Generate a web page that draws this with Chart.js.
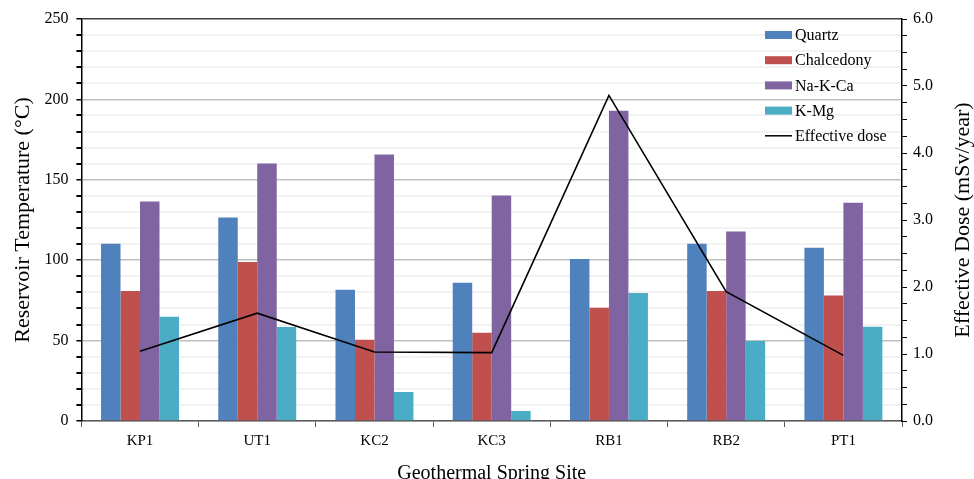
<!DOCTYPE html>
<html>
<head>
<meta charset="utf-8">
<script src="https://cdn.jsdelivr.net/npm/chart.js@4/dist/chart.umd.min.js"></script>
<style>
  html, body { margin: 0; padding: 0; background: #fff; overflow: hidden; }
</style>
</head>
<body>
<canvas id="myChart" width="974" height="488"></canvas>
<script>
const sites = ['KP1', 'UT1', 'KC2', 'KC3', 'RB1', 'RB2', 'PT1']
const quartz = [110.2, 126.6, 81.7, 86, 100.8, 110.2, 107.7]
const chalcedony = [80.8, 98.9, 50.5, 54.9, 70.4, 80.8, 78.1]
const naKCa = [136.5, 160.2, 165.8, 140.3, 192.9, 117.8, 135.7]
const kMg = [64.8, 58.4, 18.1, 6.2, 79.6, 49.7, 58.6]
const effectiveDose = [1.04, 1.61, 1.03, 1.02, 4.86, 1.93, 0.98]

const serif = 'Liberation Serif'

// legend drawn inside the plot, top right, like the original
const insideLegend = {
    id: 'insideLegend',
    afterDraw(chart) {
        const ctx = chart.ctx
        const area = chart.chartArea
        ctx.save()
        ctx.font = '16px "' + serif + '"'
        ctx.textBaseline = 'middle'
        ctx.textAlign = 'left'
        chart.data.datasets.forEach((ds, i) => {
            const x = area.right - 137
            const y = area.top + 16 + i * 25.2
            if (ds.type === 'line') {
                ctx.strokeStyle = ds.borderColor
                ctx.lineWidth = 1.5
                ctx.beginPath()
                ctx.moveTo(x, y)
                ctx.lineTo(x + 27, y)
                ctx.stroke()
            } else {
                ctx.fillStyle = ds.backgroundColor
                ctx.fillRect(x, y - 4, 27, 8)
            }
            ctx.fillStyle = '#000'
            ctx.fillText(ds.label, x + 30, y + 1)
        })
        ctx.restore()
    }
}

// right axis title reads bottom-to-top in the original
const rightTitle = {
    id: 'rightTitle',
    afterDraw(chart) {
        const sc = chart.scales.y1
        const area = chart.chartArea
        const ctx = chart.ctx
        ctx.save()
        ctx.font = '22px "' + serif + '"'
        ctx.fillStyle = '#000'
        ctx.textAlign = 'center'
        ctx.textBaseline = 'middle'
        ctx.translate(sc.right - 11, (area.top + area.bottom) / 2)
        ctx.rotate(-Math.PI / 2)
        ctx.fillText('Effective Dose (mSv/year)', 0, 0)
        ctx.restore()
    }
}

const ctx = document.getElementById('myChart').getContext('2d')
const myChart = new Chart(ctx, {
    type: 'bar',
    data: {
        labels: sites,
        datasets: [
            {label: 'Quartz', data: quartz, backgroundColor: '#4F81BD', yAxisID: 'y', order: 1},
            {label: 'Chalcedony', data: chalcedony, backgroundColor: '#C0504D', yAxisID: 'y', order: 1},
            {label: 'Na-K-Ca', data: naKCa, backgroundColor: '#8064A2', yAxisID: 'y', order: 1},
            {label: 'K-Mg', data: kMg, backgroundColor: '#4BACC6', yAxisID: 'y', order: 1},
            {label: 'Effective dose', data: effectiveDose, type: 'line', borderColor: '#000', backgroundColor: '#000',
             borderWidth: 1.6, pointRadius: 0, tension: 0, yAxisID: 'y1', order: 0}
        ]
    },
    options: {
        responsive: false,
        animation: false,
        layout: {padding: {left: 0, right: 0, top: 19, bottom: 0}},
        datasets: {bar: {barPercentage: 1.0, categoryPercentage: 0.665}},
        plugins: {legend: {display: false}, tooltip: {enabled: false}},
        scales: {
            x: {
                grid: {drawOnChartArea: false, offset: true, tickLength: 6, tickColor: '#595959'},
                border: {color: '#595959', width: 1.5},
                ticks: {color: '#000', padding: 5, font: {family: serif, size: 15}},
                title: {display: true, text: 'Geothermal Spring Site', color: '#000',
                        font: {family: serif, size: 20}, padding: {top: 7, bottom: 2}}
            },
            y: {
                position: 'left',
                min: 0, max: 250,
                grid: {
                    color: (c) => c.tick.value === 250 ? '#404040' : (c.tick.value % 50 === 0 ? '#BFBFBF' : '#F2F2F2'),
                    lineWidth: (c) => c.tick.value % 50 === 0 ? 1.5 : 2,
                    tickLength: 5, tickColor: '#000'
                },
                border: {color: '#000', width: 1.5},
                ticks: {stepSize: 10, autoSkip: false, padding: 8, color: '#000',
                        font: {family: serif, size: 16},
                        callback: (v) => v % 50 === 0 ? v : ''},
                title: {display: true, text: 'Reservoir Temperature (°C)', color: '#000',
                        font: {family: serif, size: 22}, padding: {top: 10, bottom: 0}}
            },
            y1: {
                position: 'right',
                min: 0, max: 6,
                grid: {drawOnChartArea: false, tickLength: 5, tickColor: '#000'},
                border: {color: '#000', width: 1.5},
                ticks: {stepSize: 0.25, autoSkip: false, padding: 6, color: '#000',
                        font: {family: serif, size: 16},
                        callback: (v) => Number.isInteger(v) ? v.toFixed(1) : ''},
                title: {display: true, text: 'Effective Dose (mSv/year)', color: 'rgba(0,0,0,0)',
                        font: {family: serif, size: 22, lineHeight: 1}, padding: {top: 0, bottom: 13}}
            }
        }
    },
    plugins: [insideLegend, rightTitle]
})
</script>
</body>
</html>
